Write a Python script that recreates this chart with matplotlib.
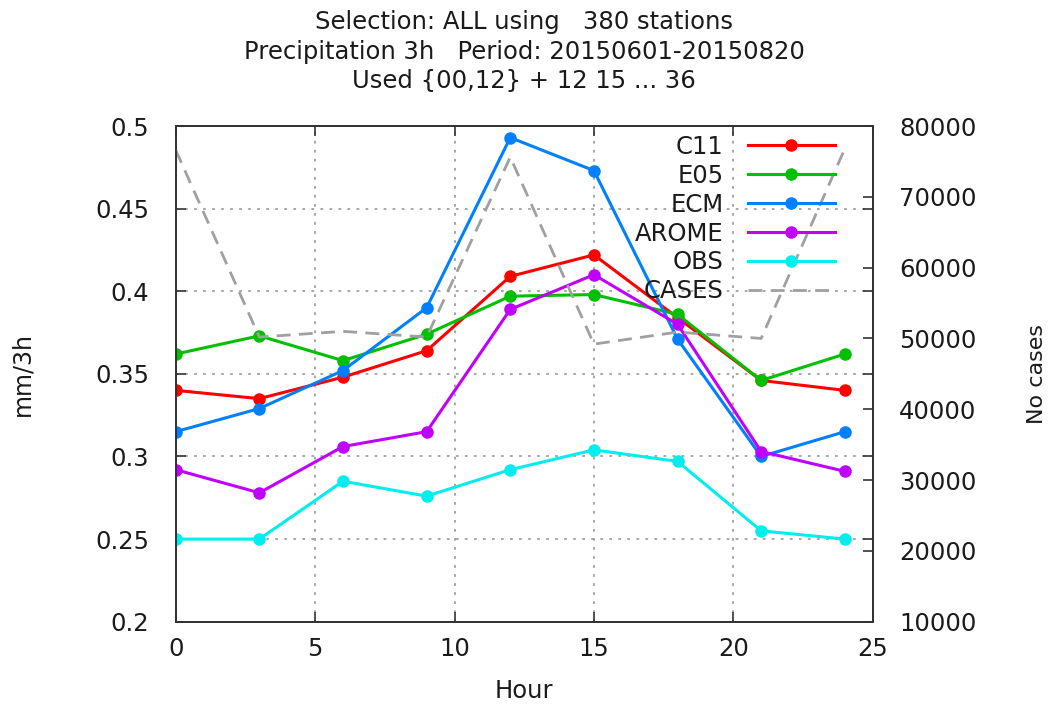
import matplotlib
matplotlib.use("Agg")
import matplotlib.pyplot as plt

hours = [0, 3, 6, 9, 12, 15, 18, 21, 24]
c11 = [0.340, 0.335, 0.348, 0.364, 0.409, 0.422, 0.384, 0.346, 0.340]
e05 = [0.362, 0.373, 0.358, 0.374, 0.397, 0.398, 0.386, 0.346, 0.362]
ecm = [0.315, 0.329, 0.352, 0.390, 0.493, 0.473, 0.371, 0.300, 0.315]
arome = [0.292, 0.278, 0.306, 0.315, 0.389, 0.410, 0.380, 0.303, 0.291]
obs = [0.250, 0.250, 0.285, 0.276, 0.292, 0.304, 0.297, 0.255, 0.250]
cases = [76600, 50200, 51000, 50200, 75600, 49200, 50900, 50000, 76800]

series = [("C11", c11, "#ff0000"), ("E05", e05, "#00c000"),
          ("ECM", ecm, "#0080ff"), ("AROME", arome, "#c000ff"),
          ("OBS", obs, "#00eeee")]

title = ("Selection: ALL using   380 stations\n"
         "Precipitation 3h   Period: 20150601-20150820\n"
         "Used {00,12} + 12 15 ... 36")

plt.rcParams['font.family'] = ['DejaVu Sans']
fs = 17.5
fig = plt.figure(figsize=(10.52, 7.04), dpi=100)
ax = fig.add_axes([175.7/1052, 1-621.7/704, 697/1052, 495.7/704])
ax2 = ax.twinx()

handles = []
for name, vals, col in series:
    h, = ax.plot(hours, vals, color=col, lw=2.2, marker='o', ms=8, label=name)
    handles.append(h)
hc, = ax2.plot(hours, cases, color='#a0a0a0', lw=2, ls=(0, (5, 3)), label='CASES')
handles.append(hc)

ax.set_xlim(0, 25)
ax.set_ylim(0.2, 0.5)
ax2.set_ylim(10000, 80000)
ax.set_xticks([0, 5, 10, 15, 20, 25])
ax.set_yticks([0.2, 0.25, 0.3, 0.35, 0.4, 0.45, 0.5])
ax.set_yticklabels(['0.2', '0.25', '0.3', '0.35', '0.4', '0.45', '0.5'])
ax2.set_yticks(range(10000, 80001, 10000))

ax.grid(True, color='#a0a0a0', ls=(0, (1.5, 3.5)), lw=1.3)
ax.tick_params(axis='both', direction='in', length=7, width=1.2, labelsize=fs,
               top=True, right=True, color='#333333', labelcolor='#1a1a1a')
ax.tick_params(axis='x', pad=11)
ax.tick_params(axis='y', pad=19)
ax2.tick_params(axis='y', direction='in', length=7, width=1.2, labelsize=fs,
                pad=19, color='#333333', labelcolor='#1a1a1a')
for a in (ax, ax2):
    for s in a.spines.values():
        s.set_linewidth(1.3)
        s.set_color('#333333')

ax.set_xlabel('Hour', fontsize=fs, color='#1a1a1a')
ax.xaxis.set_label_coords(0.5, -0.115)
ax.set_ylabel('mm/3h', fontsize=17, color='#1a1a1a')
ax.yaxis.set_label_coords(-0.203, 0.5)
ax2.set_ylabel('No cases', fontsize=16, color='#1a1a1a')
ax2.yaxis.set_label_coords(1.222, 0.5)

fig.text(524/1052, 1-10/704, title, ha='center', va='top', fontsize=fs,
         linespacing=1.3, color='#1a1a1a')

leg = ax2.legend(handles=handles, loc='upper right', bbox_to_anchor=(0.946, 0.982),
                 frameon=False, markerfirst=False, fontsize=fs, handlelength=3.6,
                 labelspacing=0.2, handletextpad=1.0, borderaxespad=0, borderpad=0)
for t in leg.get_texts():
    t.set_color('#1a1a1a')

fig.savefig('out.png', dpi=100)
